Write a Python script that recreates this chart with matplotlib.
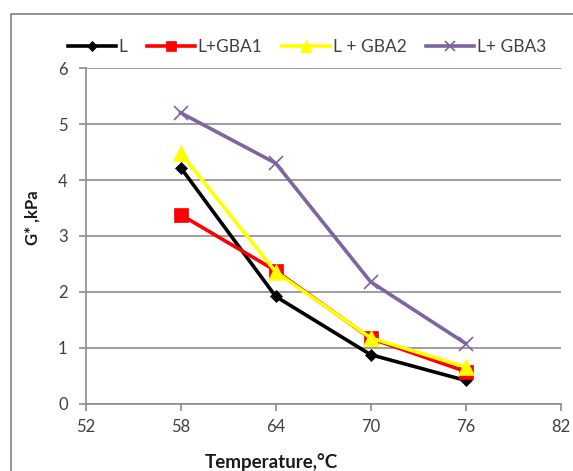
import matplotlib.pyplot as plt
from matplotlib.patches import Rectangle
from matplotlib.lines import Line2D

plt.rcParams['font.family'] = ['Lato', 'DejaVu Sans']

temps = [58, 64, 70, 76]
g_L = [4.22, 1.92, 0.88, 0.42]
g_gba1 = [3.38, 2.38, 1.17, 0.58]
g_gba2 = [4.48, 2.36, 1.18, 0.66]
g_gba3 = [5.2, 4.3, 2.18, 1.08]

names = ['L', 'L+GBA1', 'L + GBA2', 'L+ GBA3']
colors = ['black', '#ff0000', '#ffff00', '#8064a2']
markers = ['D', 's', '^', 'x']
msizes = [6.5, 10.5, 11, 10]

x_ticks = [52, 58, 64, 70, 76, 82]
y_ticks = [0, 1, 2, 3, 4, 5, 6]

fig = plt.figure(figsize=(5.73, 4.71), dpi=100)
ax = fig.add_axes([0.1496, 0.1423, 0.9785 - 0.1496, 0.8556 - 0.1423])

# chart frame
fig.patches.append(Rectangle((11 / 573, -0.1), 1.2, 1 - 14 / 471 + 0.1,
                             transform=fig.transFigure, fill=False,
                             edgecolor='#7f7f7f', lw=1.2))

series = [g_L, g_gba1, g_gba2, g_gba3]
for vals, c, m, ms in zip(series, colors, markers, msizes):
    ax.plot(temps, vals, color=c, lw=2.6, marker=m, markersize=ms,
            markeredgewidth=1.2 if m == 'x' else 0.5, markeredgecolor=c,
            zorder=3)

ax.set_xlim(52, 82)
ax.set_ylim(0, 6)
ax.set_xticks(x_ticks)
ax.set_yticks(y_ticks)
ax.yaxis.grid(True, color='#8c8c8c', lw=1.2)
ax.set_axisbelow(True)
for s in ['top', 'right']:
    ax.spines[s].set_visible(False)
for s in ['left', 'bottom']:
    ax.spines[s].set_color('#8c8c8c')
    ax.spines[s].set_linewidth(1.2)
ax.tick_params(axis='both', colors='#8c8c8c', length=5, width=1.2,
               labelcolor='#404040', labelsize=12)
ax.tick_params(axis='y', pad=8)
ax.tick_params(axis='x', pad=6)

fig.text(271 / 573, 1 - 462 / 471, 'Temperature,°C', fontsize=13.5,
         fontweight='bold', ha='center', va='center', color='#1a1a1a')
fig.text(33 / 573, 1 - 218 / 471, 'G* ,kPa', fontsize=12, fontweight='bold',
         rotation=90, ha='center', va='center', color='#1a1a1a')

handles = [Line2D([], [], color=c, lw=2.6, marker=m, markersize=ms * 0.75,
                  markeredgewidth=1.2 if m == 'x' else 0.5, markeredgecolor=c)
           for c, m, ms in zip(colors, markers, msizes)]
fig.legend(handles, names, loc='center left', bbox_to_anchor=(52 / 573, 1 - 47 / 471),
           ncol=4, frameon=False, fontsize=12.5, handlelength=2.76,
           handletextpad=0.15, columnspacing=1.15, labelcolor='#404040')

fig.savefig('out.png', dpi=100)
